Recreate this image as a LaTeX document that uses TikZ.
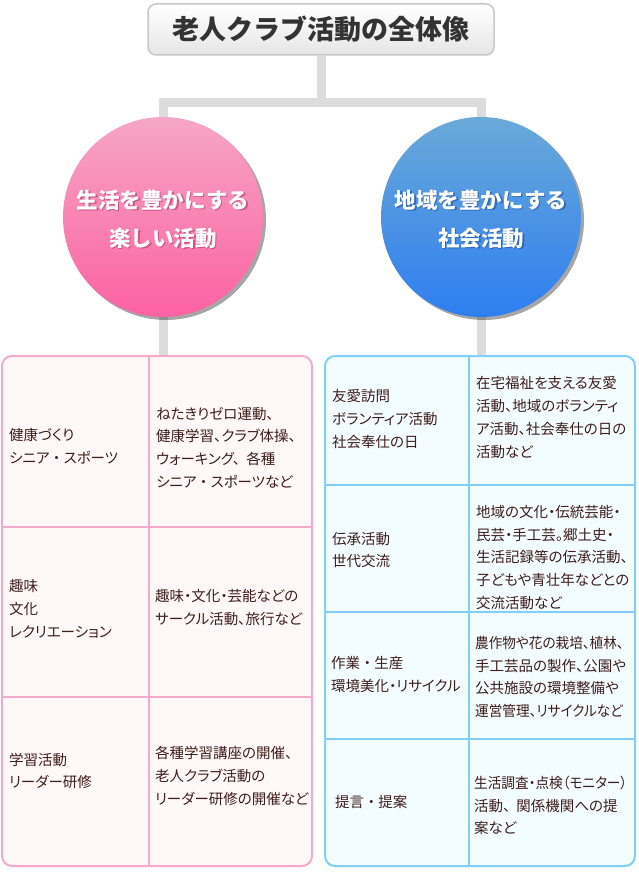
\documentclass[tikz,border=0pt]{standalone}
\usepackage{fontspec}
\setmainfont{Noto Sans CJK JP}
\newfontfamily\jpp{Noto Sans CJK JP}[RawFeature=+palt]
\usetikzlibrary{shadows, backgrounds, positioning}

\definecolor{connGray}{HTML}{DCDCDC}
\definecolor{titleLine}{HTML}{C8C8C8}
\definecolor{titleBot}{HTML}{E6E6E6}
\definecolor{titleText}{HTML}{333333}
\definecolor{pinkTop}{HTML}{F6A6C6}
\definecolor{pinkBot}{HTML}{FC62A2}
\definecolor{pinkShade}{HTML}{B0386E}
\definecolor{blueTop}{HTML}{6AAAD8}
\definecolor{blueBot}{HTML}{2E7EF0}
\definecolor{blueShade}{HTML}{1E4E96}
\definecolor{pinkLine}{HTML}{F3AACB}
\definecolor{pinkFill}{HTML}{FEF8F8}
\definecolor{blueLine}{HTML}{80CFF4}
\definecolor{blueFill}{HTML}{F3FCFF}
\definecolor{cellText}{HTML}{3E1E1C}

% 全角幅の中点・読点
\newcommand\wdot{\kern3.5pt・\kern3.5pt}
\newcommand\wcomma{、\kern6pt}
\newcommand\narrowline[1]{\scalebox{0.94}[1]{#1}}

\tikzset{
  conn/.style={draw=connGray, line width=9pt, line join=miter},
  titlebox/.style={draw=titleLine, line width=1.5pt, rounded corners=8pt,
    top color=white, bottom color=titleBot, minimum width=346pt, minimum height=51pt,
    font=\bfseries\fontsize{27}{30}\selectfont, text=titleText},
  bigcirc/.style={circle, minimum size=200pt, inner sep=0pt,
    drop shadow={shadow xshift=3pt, shadow yshift=-3pt, opacity=0.35, fill=black}},
  circtext/.style={align=center, inner sep=0pt, font=\bfseries\fontsize{21.5}{38}\selectfont, text=white},
  tabbox/.style={rounded corners=10pt, line width=2pt, minimum width=310pt, minimum height=510pt},
  cell/.style={align=left, inner sep=0pt, anchor=west, font=\jpp\fontsize{14.5}{22.7}\selectfont, text=cellText},
}

\begin{document}
\begin{tikzpicture}[x=1pt, y=-1pt]
  \useasboundingbox (0,0) rectangle (638,874);

  % タイトル
  \node[titlebox] (title) at (321,29.5) {老人クラブ活動の全体像};
  \coordinate (fork) at (321,103);

  % 二つの柱
  \node[bigcirc, top color=pinkTop, bottom color=pinkBot] (cL) at (163,217) {};
  \node[circtext, text=pinkShade, opacity=0.6] at (164.5,220.5) {生活を豊かにする\\楽しい活動};
  \node[circtext] (cLtext) at (163,219) {生活を豊かにする\\楽しい活動};

  \node[bigcirc, top color=blueTop, bottom color=blueBot] (cR) at (481,217) {};
  \node[circtext, text=blueShade, opacity=0.6] at (482.5,220.5) {地域を豊かにする\\社会活動};
  \node[circtext] (cRtext) at (481,219) {地域を豊かにする\\社会活動};

  % 表 (左)
  \node[tabbox, draw=pinkLine, fill=pinkFill] (tL) at (157,611) {};
  \draw[pinkLine, line width=2pt] (149,356) -- (149,866);
  \draw[pinkLine, line width=2pt] (2,527) -- (312,527);
  \draw[pinkLine, line width=2pt] (2,697) -- (312,697);

  \node[cell] (l1a) at (9,446.5) {健康づくり\\シニア\wdot スポーツ};
  \node[cell] (l1b) at (156,447.5) {ねたきりゼロ運動、\\健康学習、クラブ体操、\\ウォーキング\wcomma 各種\\シニア\wdot スポーツなど};
  \node[cell] (l2a) at (9,609) {趣味\\文化\\レクリエーション};
  \node[cell] (l2b) at (155,607.5) {趣味・文化・芸能などの\\サークル活動、旅行など};
  \node[cell] (l3a) at (9,771) {学習活動\\リーダー研修};
  \node[cell] (l3b) at (155,776) {各種学習講座の開催、\\老人クラブ活動の\\リーダー研修の開催など};

  % 表 (右)
  \node[tabbox, draw=blueLine, fill=blueFill] (tR) at (480,611) {};
  \draw[blueLine, line width=2pt] (469,356) -- (469,866);
  \draw[blueLine, line width=2pt] (325,485) -- (635,485);
  \draw[blueLine, line width=2pt] (325,612) -- (635,612);
  \draw[blueLine, line width=2pt] (325,739) -- (635,739);

  \node[cell] (r1a) at (332,419) {友愛訪問\\ボランティア活動\\社会奉仕の日};
  \node[cell] (r1b) at (476,417.5) {在宅福祉を支える友愛\\活動、地域のボランティ\\ア活動、社会奉仕の日の\\活動など};
  \node[cell] (r2a) at (332,550) {伝承活動\\世代交流};
  \node[cell] (r2b) at (476,557.5) {地域の文化・伝統芸能・\\民芸・手工芸。郷土史・\\生活記録等の伝承活動、\\子どもや青壮年などとの\\交流活動など};
  \node[cell] (r3a) at (331,674.5) {作業\wdot 生産\\環境美化・リサイクル};
  \node[cell] (r3b) at (475,677) {\narrowline{農作物や花の栽培、植林、}\\手工芸品の製作、公園や\\公共施設の環境整備や\\\narrowline{運営管理、リサイクルなど}};
  \node[cell] (r4a) at (335,802) {提言\wdot 提案};
  \node[cell] (r4b) at (474,805.5) {\narrowline{生活調査・点検（モニター）}\\活動\wcomma 関係機関への提\\案など};

  % 連結線
  \begin{pgfonlayer}{background}
    \fill[white] (0,0) rectangle (638,874);
    \draw[conn] (title.south) -- (fork);
    \draw[conn] (cL.center) |- (fork) -| (cR.center);
    \draw[conn] (cL.center) -- (cL.center |- tL.north);
    \draw[conn] (cR.center) -- (cR.center |- tR.north);
  \end{pgfonlayer}
\end{tikzpicture}
\end{document}
